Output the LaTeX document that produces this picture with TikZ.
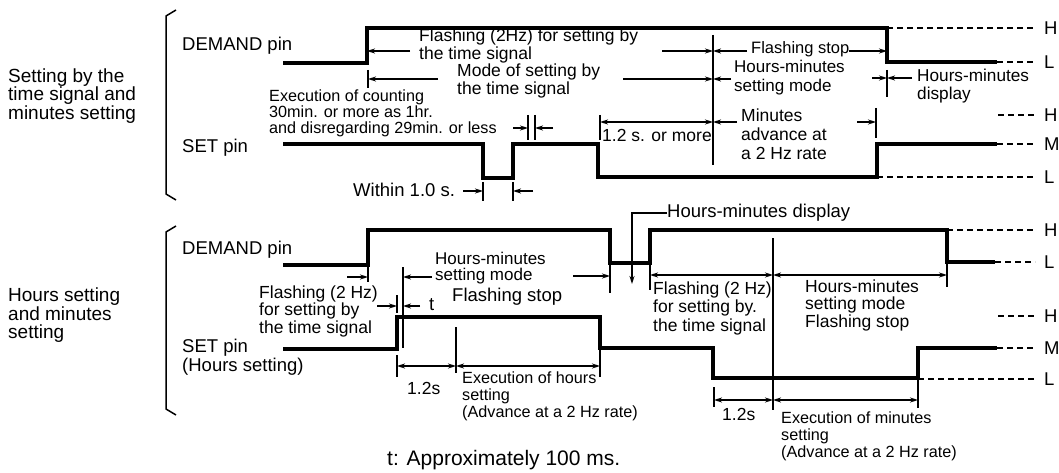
\documentclass[tikz,border=0pt]{standalone}
\usepackage{fontspec}
\setmainfont{Liberation Sans}
\usetikzlibrary{arrows.meta}
\begin{document}
\begin{tikzpicture}[x=1pt,y=-1pt,
  wave/.style={line width=3.4pt, line join=miter},
  dim/.style={line width=1.5pt},
  tk/.style={line width=1.5pt},
  lvl/.style={line width=1.4pt, dash pattern=on 6pt off 4pt},
  ar/.style={dim, -{Stealth[length=8pt,width=5pt]}},
  da/.style={dim, arrows={Stealth[length=8pt,width=5pt]-Stealth[length=8pt,width=5pt]}},
  tx/.style 2 args={inner sep=0pt, anchor=west, align=left, font=\fontsize{#1}{#2}\selectfont},
  lv/.style={inner sep=0pt, anchor=west, font=\fontsize{18.5}{18.5}\selectfont}
]
\useasboundingbox (0,0) rectangle (1059,473);

% brackets
\draw[tk] (176,10) -- (166,16) -- (166,194) -- (176,200);
\draw[tk] (176,226) -- (166,232) -- (166,409) -- (176,415);

% group labels
\node[tx={19}{18.5}] (g1) at (8,96) {Setting by the\\time signal and\\minutes setting};
\node[tx={19}{17.5}] (g2) at (8,315) {Hours setting\\and minutes\\setting};

% pin labels
\node[tx={18.5}{18.5}] (d1) at (182,46) {DEMAND pin};
\node[tx={18.5}{18.5}] (s1) at (182,148) {SET pin};
\node[tx={18.5}{18.5}] (d2) at (182,250) {DEMAND pin};
\node[tx={18.5}{19}] (s2) at (182,357) {SET pin\\(Hours setting)};

% ---------- top DEMAND
\draw[wave] (283,63) -- (367,63) -- (367,28) -- (887,28) -- (887,62) -- (997,62);
\draw[lvl] (887,28) -- (1035,28);
\draw[lvl] (997,62) -- (1035,62);
\node[lv] (h1) at (1044,28) {H};
\node[lv] (l1) at (1044,62) {L};

% ---------- top SET
\draw[wave] (283,144) -- (483,144) -- (483,178) -- (513,178) -- (513,144) -- (598,144) -- (598,177) -- (877,177) -- (877,144) -- (997,144);
\draw[lvl] (998,115) -- (1035,115);
\draw[lvl] (997,144) -- (1035,144);
\draw[lvl] (877,177) -- (1035,177);
\node[lv] (h2) at (1044,115) {H};
\node[lv] (m2) at (1044,144) {M};
\node[lv] (l2) at (1044,177) {L};

% ---------- top annotations
\draw[tk] (713,35) -- (713,165);
\draw[ar] (410,51) -- (367,51);
\node[tx={17.5}{15}] (fl1) at (419,46) {Flashing (2Hz) for setting by\\the time signal};
\draw[ar] (662,51) -- (713,51);
\draw[ar] (747,51) -- (713,51);
\node[tx={16.5}{16.5}] (fs1) at (751,49) {Flashing stop};
\draw[ar] (849,51) -- (887,51);

\draw[tk] (368,70) -- (368,88);
\draw[ar] (438,79) -- (368,79);
\node[tx={17.5}{18}] (md1) at (457,81) {Mode of setting by\\the time signal};
\draw[ar] (623,79) -- (713,79);
\draw[ar] (731,79) -- (713,79);
\node[tx={17}{19}] (hm1) at (734,78) {Hours-minutes\\setting mode};

\draw[tk] (887,70) -- (887,97);
\draw[ar] (872,78) -- (887,78);
\draw[ar] (912,78) -- (887,78);
\node[tx={17.2}{18}] (hd1) at (917,86) {Hours-minutes\\display};

\node[tx={16.2}{16}] (ex1) at (269,113) {Execution of counting\\30min. or more as 1hr.\\and disregarding 29min. or less};
\draw[tk] (528,115) -- (528,140);
\draw[tk] (535,115) -- (535,140);
\draw[ar] (513,128) -- (528,128);
\draw[ar] (553,128) -- (535,128);

\node[tx={18.5}{18.5}] (w1) at (353,190) {Within 1.0 s.};
\draw[tk] (483,182) -- (483,201);
\draw[tk] (513,182) -- (513,201);
\draw[ar] (463,191) -- (483,191);
\draw[ar] (533,191) -- (513,191);

\draw[tk] (600,115) -- (600,140);
\draw[da] (600,122) -- (713,122);
\draw[ar] (737,122) -- (713,122);
\node[tx={17.5}{17.5}] (ot1) at (602,135) {1.2 s. or more};
\draw[tk] (876,108) -- (876,138);
\draw[ar] (857,122) -- (876,122);
\node[tx={17.5}{19}] (ma1) at (741,134) {Minutes\\advance at\\a 2 Hz rate};

% ---------- bottom DEMAND
\draw[wave] (283,265) -- (368,265) -- (368,230) -- (610,230) -- (610,263) -- (650,263) -- (650,230) -- (947,230) -- (947,262) -- (995,262);
\draw[lvl] (947,230) -- (1035,230);
\draw[lvl] (995,262) -- (1035,262);
\node[lv] (h3) at (1044,230) {H};
\node[lv] (l3) at (1044,262) {L};

% ---------- bottom SET
\draw[wave] (283,349) -- (397,349) -- (397,317) -- (600,317) -- (600,348) -- (713,348) -- (713,378) -- (918,378) -- (918,348) -- (997,348);
\draw[lvl] (998,316) -- (1035,316);
\draw[lvl] (997,348) -- (1035,348);
\draw[lvl] (918,379) -- (1035,379);
\node[lv] (h4) at (1044,316) {H};
\node[lv] (m4) at (1044,348) {M};
\node[lv] (l4) at (1044,379) {L};

% ---------- bottom annotations
\node[tx={18.5}{18.5}] (hd2) at (667,213) {Hours-minutes display};
\draw[ar] (hd2.west) -| (632,284);

\draw[tk] (368,265) -- (368,282);
\draw[ar] (347,277) -- (368,277);
\node[tx={17.5}{17.5}] (fl2) at (259,311) {Flashing (2 Hz)\\for setting by\\the time signal};
\draw[tk] (397,295) -- (397,313);
\draw[tk] (403,267) -- (403,348);
\draw[ar] (377,306) -- (397,306);
\draw[ar] (420,306) -- (403,306);
\node[tx={18.5}{18.5}] (tt) at (429,305) {t};
\draw[ar] (432,277) -- (403,277);
\node[tx={17}{16}] (hm2) at (435,268) {Hours-minutes\\setting mode};
\node[tx={18.5}{18.5}] (fs2) at (452,297) {Flashing stop};
\draw[tk] (610,263) -- (610,293);
\draw[ar] (573,276) -- (610,276);

\draw[tk] (650,263) -- (650,290);
\draw[tk] (773,238) -- (773,410);
\draw[tk] (947,262) -- (947,287);
\draw[da] (650,275) -- (773,275);
\draw[da] (773,275) -- (947,275);
\node[tx={17.5}{18.5}] (fl3) at (653,308) {Flashing (2 Hz)\\for setting by.\\the time signal};
\node[tx={17.5}{17.5}] (hm3) at (805,305) {Hours-minutes\\setting mode\\Flashing stop};

\draw[tk] (397,355) -- (397,377);
\draw[tk] (456,327) -- (456,373);
\draw[tk] (600,348) -- (600,377);
\draw[da] (397,366) -- (456,366);
\draw[da] (456,366) -- (600,366);
\node[tx={17.5}{17.5}] (ta) at (407,388) {1.2s};
\node[tx={16.2}{17}] (eh) at (462,396) {Execution of hours\\setting\\(Advance at a 2 Hz rate)};

\draw[tk] (714,387) -- (714,407);
\draw[tk] (918,378) -- (918,408);
\draw[da] (714,400) -- (773,400);
\draw[da] (773,400) -- (918,400);
\node[tx={17.5}{17.5}] (tb) at (722,414) {1.2s};
\node[tx={16.2}{17}] (em) at (781,436) {Execution of minutes\\setting\\(Advance at a 2 Hz rate)};

\node[tx={21}{21}] (tn) at (387,460) {t: Approximately 100 ms.};
\end{tikzpicture}
\end{document}
